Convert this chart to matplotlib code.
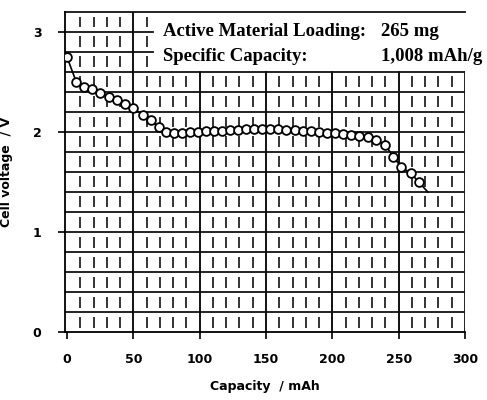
import numpy as np
import matplotlib.pyplot as plt

# discharge curve, capacity in mAh and cell voltage in V
capacity = [0, 7, 13, 19, 25, 32, 38, 44, 50, 57, 63, 69, 75, 81, 87, 93, 99,
            105, 111, 117, 123, 129, 135, 141, 147, 153, 159, 165, 172, 178,
            184, 190, 196, 202, 208, 214, 220, 227, 233, 240, 246, 252, 259,
            265, 272]
voltage = [2.75, 2.50, 2.45, 2.43, 2.39, 2.35, 2.32, 2.28, 2.24, 2.17, 2.12,
           2.05, 2.00, 1.99, 1.99, 2.00, 2.00, 2.01, 2.01, 2.01, 2.02, 2.02,
           2.03, 2.03, 2.03, 2.03, 2.03, 2.02, 2.02, 2.01, 2.01, 2.00, 1.99,
           1.99, 1.98, 1.97, 1.96, 1.95, 1.92, 1.87, 1.75, 1.65, 1.59, 1.50,
           1.40]

x_ticks = [0, 50, 100, 150, 200, 250, 300]
y_ticks = [0, 1, 2, 3]

info_labels = ['Active Material Loading:', 'Specific Capacity:']
info_values = ['265 mg', '1,008 mAh/g']

fig = plt.figure(figsize=(4.87, 4.0), dpi=100)
ax = fig.add_axes([65 / 487, 68 / 400, 400 / 487, 320 / 400])
ax.set_xlim(-1.5, 300)
ax.set_ylim(0, 3.2)

# graph-paper grid: solid rows every 0.2 V, broken columns every 10 mAh
ink = '#111111'
for y in np.arange(0.2, 2.61, 0.2):
    ax.axhline(y, color=ink, lw=1.3, zorder=1)
for y in [2.8, 3.0]:
    ax.plot([-1.5, 65], [y, y], color=ink, lw=1.3, zorder=1)
ax.plot([-1.5, 300], [3.2, 3.2], color=ink, lw=1.3, zorder=1, clip_on=False)
ax.plot([300, 300], [0, 2.6], color=ink, lw=1.3, zorder=1)

rows = np.arange(0, 3.2, 0.2)
for x in range(10, 300, 10):
    top = 16 if x <= 60 else 13
    if x % 50 == 0:
        ax.plot([x, x], [0, rows[top - 1] + 0.2], color=ink, lw=1.4, zorder=1)
        continue
    lo = rows[:top] + 0.045
    hi = rows[:top] + 0.155
    ax.vlines([x] * len(lo), lo, hi, color=ink, lw=1.2, zorder=1)

ax.plot(capacity, voltage, color='black', lw=1.2, marker='o', ms=6.3,
        mfc='white', mec='black', mew=1.3, markevery=list(range(len(capacity) - 1)),
        zorder=3)

for spine in ['top', 'right']:
    ax.spines[spine].set_visible(False)
ax.spines['left'].set_linewidth(1.3)
ax.spines['bottom'].set_linewidth(1.3)

ax.set_xticks(x_ticks)
ax.set_yticks(y_ticks)
ax.tick_params(direction='out', length=5, width=1.2, labelsize=9)
for lab in ax.get_xticklabels() + ax.get_yticklabels():
    lab.set_fontweight('bold')
ax.tick_params(axis='y', pad=12)
ax.tick_params(axis='x', pad=10)

ax.set_xlabel('Capacity  / mAh', fontsize=9, fontweight='bold', labelpad=10)
ax.set_ylabel('Cell voltage  / V', fontsize=9, fontweight='bold', labelpad=14)

serif = {'family': 'Liberation Serif', 'weight': 'bold', 'size': 13.5}
for i, (label, value) in enumerate(zip(info_labels, info_values)):
    y = 3.0 - 0.25 * i
    ax.text(72, y, label, va='center', ha='left', fontdict=serif)
    ax.text(237, y, value, va='center', ha='left', fontdict=serif)

fig.savefig('out.png', dpi=100)
